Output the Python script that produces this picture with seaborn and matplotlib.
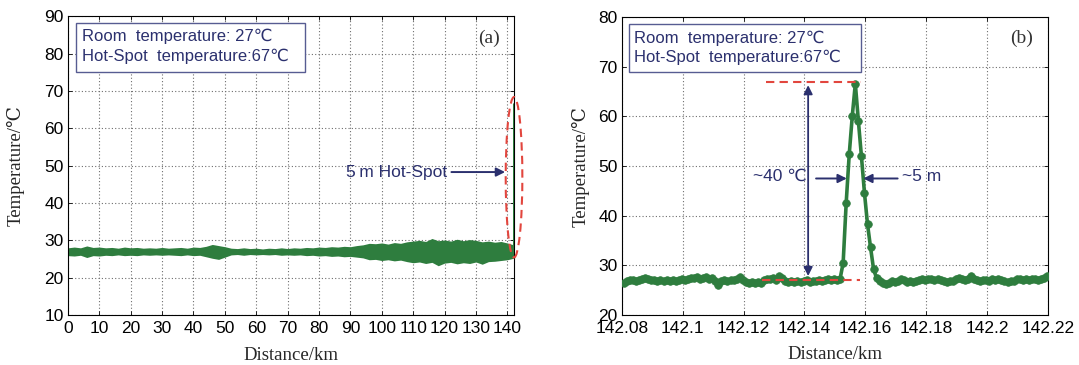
import numpy as np
import pandas as pd
import matplotlib
matplotlib.use("Agg")
import matplotlib.pyplot as plt
from matplotlib.patches import Ellipse, Rectangle
import seaborn as sns

# ---- data -------------------------------------------------------------
ROOM_T = 27   # room temperature, degC
HOT_T = 67    # hot-spot temperature, degC

# (a) whole fibre: envelope of the noisy temperature trace (every 2 km)
span_km = [0, 2, 4, 6, 8, 10, 12, 14, 16, 18, 20, 22, 24, 26, 28, 30, 32, 34,
           36, 38, 40, 42, 44, 46, 48, 50, 52, 54, 56, 58, 60, 62, 64, 66, 68, 70,
           72, 74, 76, 78, 80, 82, 84, 86, 88, 90, 92, 94, 96, 98, 100, 102, 104,
           106, 108, 110, 112, 114, 116, 118, 120, 122, 124, 126, 128, 130, 132,
           134, 136, 138, 140, 142]
span_hi = [28.0, 28.2, 28.0, 28.5, 28.1, 28.2, 28.0, 28.1, 27.9, 28.2, 28.0, 28.1,
           27.9, 28.0, 27.9, 28.1, 27.9, 28.0, 28.1, 27.9, 28.2, 28.1, 28.4, 28.9,
           28.6, 28.3, 27.9, 27.8, 28.0, 27.8, 27.9, 27.7, 27.9, 27.8, 28.0, 27.8,
           28.0, 27.9, 28.1, 28.0, 28.2, 28.1, 28.3, 28.2, 28.4, 28.3, 28.6, 28.8,
           29.2, 29.1, 29.3, 29.0, 29.4, 29.2, 29.6, 29.8, 30.0, 29.7, 30.5, 29.9,
           30.1, 29.8, 30.3, 29.9, 30.2, 30.0, 29.6, 29.8, 29.5, 29.7, 29.3, 28.8]
span_lo = [25.9, 25.8, 26.0, 25.4, 25.9, 25.8, 26.0, 25.9, 26.1, 25.9, 26.0, 25.9,
           26.1, 26.0, 26.1, 26.0, 26.1, 26.0, 25.9, 26.1, 25.9, 26.0, 25.6, 25.2,
           24.9, 25.5, 26.1, 26.2, 26.0, 26.2, 26.1, 26.2, 26.1, 26.2, 26.0, 26.1,
           26.0, 26.1, 25.9, 26.0, 25.8, 25.9, 25.7, 25.8, 25.6, 25.7, 25.5, 25.3,
           24.8, 24.9, 24.6, 24.8, 24.5, 24.7, 24.3, 24.0, 24.2, 23.8, 24.1, 23.2,
           23.9, 24.1, 23.7, 24.0, 23.8, 24.2, 23.6, 24.3, 24.4, 24.6, 24.8, 25.2]

# (b) zoom around the hot spot: one sample per metre
zoom_start_km = 142.0807
zoom_step_km = 0.001
zoom_temp = [
    26.5, 26.8, 27.0, 27.0, 26.9, 27.1, 27.3, 27.45, 27.2, 27.0,
    27.0, 26.8, 27.1, 26.9, 27.0, 26.8, 27.0, 26.9, 27.1, 27.2,
    27.0, 27.3, 27.5, 27.4, 27.6, 27.3, 27.5, 27.6, 27.2, 27.5,
    26.9, 26.1, 26.9, 27.0, 26.8, 27.1, 27.0, 27.2, 27.6, 27.1,
    26.6, 26.4, 26.6, 26.5, 26.7, 26.5, 27.0, 27.3, 27.2, 27.4,
    27.1, 27.8, 27.5, 26.9, 26.7, 26.9, 26.6, 26.8, 26.7, 26.9,
    27.0, 26.7, 26.9, 26.8, 27.0, 26.9, 27.1, 27.2, 27.0, 27.3,
    27.1, 27.3, 30.5, 42.6, 52.4, 60.1, 66.6, 59.1, 52.0, 44.6,
    38.3, 33.6, 29.2, 27.4, 26.9, 26.5, 26.2, 26.4, 26.8, 26.6,
    26.9, 27.2, 27.0, 26.7, 26.9, 26.6, 26.8, 27.1, 27.3, 27.0,
    27.2, 27.3, 27.1, 27.2, 27.0, 26.8, 26.7, 26.9, 26.8, 27.3,
    27.4, 27.2, 27.0, 27.3, 27.8, 27.2, 27.0, 26.9, 27.1, 27.0,
    26.9, 27.2, 27.0, 27.3, 27.1, 26.8, 26.7, 26.9, 26.8, 27.2,
    27.3, 27.1, 27.2, 27.0, 27.3, 27.2, 27.1, 27.3, 27.5, 27.8]
zoom_km = zoom_start_km + zoom_step_km * np.arange(len(zoom_temp))

span_xticks = [0, 10, 20, 30, 40, 50, 60, 70, 80, 90, 100, 110, 120, 130, 140]
span_yticks = [10, 20, 30, 40, 50, 60, 70, 80, 90]
zoom_xticks = [142.08, 142.10, 142.12, 142.14, 142.16, 142.18, 142.20, 142.22]
zoom_xticklabels = ["142.08", "142.1", "142.12", "142.14", "142.16", "142.18",
                    "142.2", "142.22"]
zoom_yticks = [20, 30, 40, 50, 60, 70, 80]

# ---- style ------------------------------------------------------------
sns.set_theme(style="ticks")
SANS = ["Liberation Sans", "DejaVu Sans"]
SERIF = ["Liberation Serif", "DejaVu Serif"]
plt.rcParams["font.family"] = SANS
plt.rcParams["axes.unicode_minus"] = False

GREEN = "#2e7d3e"
NAVY = "#2b306e"
BOXEDGE = "#575c92"
RED = "#e2463e"

fig = plt.figure(figsize=(10.79, 3.65), dpi=100)
ax1 = fig.add_axes([0.0630, 0.137, 0.4136, 0.818])
ax2 = fig.add_axes([0.5763, 0.137, 0.3950, 0.816])


def style_axes(ax):
    ax.grid(True, linestyle=(0, (1, 2)), color="#6e6e6e", linewidth=0.8)
    ax.set_axisbelow(True)
    for s in ax.spines.values():
        s.set_visible(True)
        s.set_color("black")
        s.set_linewidth(0.8)
    ax.tick_params(axis="both", direction="in", length=3, width=0.6,
                   top=True, right=True, labelsize=12.5, colors="black")
    ax.tick_params(axis="x", pad=4)
    ax.tick_params(axis="y", pad=3)
    for lab in ax.get_xticklabels() + ax.get_yticklabels():
        lab.set_family(SANS)


def axis_labels(ax, ylab_x):
    ax.set_xlabel("Distance/km", family=SERIF, fontsize=13.5)
    ax.set_ylabel("Temperature/\u2103", family=SERIF, fontsize=13.5)
    ax.xaxis.set_label_coords(0.5, -0.134)
    ax.yaxis.set_label_coords(ylab_x, 0.5)
    ax.xaxis.label.set_va("center")
    ax.yaxis.label.set_va("center")


def info_box(ax, x0, x1, y0, y1, tx, ty1, ty2):
    ax.add_patch(Rectangle((x0, y0), x1 - x0, y1 - y0, transform=ax.transAxes,
                           facecolor="white", edgecolor=BOXEDGE, linewidth=1.0,
                           zorder=5))
    ax.text(tx, ty1, "Room  temperature: %d\u2103" % ROOM_T, transform=ax.transAxes,
            ha="left", va="center", fontsize=12, color=NAVY, family=SANS, zorder=6)
    ax.text(tx, ty2, "Hot-Spot  temperature:%d\u2103" % HOT_T, transform=ax.transAxes,
            ha="left", va="center", fontsize=12, color=NAVY, family=SANS, zorder=6)


# ---- (a) whole fibre --------------------------------------------------
ax1.fill_between(span_km, span_lo, span_hi, color=GREEN, linewidth=0,
                 zorder=2)
sns.lineplot(x=zoom_km, y=zoom_temp, ax=ax1, color=GREEN, linewidth=1.0,
             estimator=None, sort=False, zorder=3)
ax1.set_xlim(0, 142.22)
ax1.set_ylim(10, 90)
ax1.set_xticks(span_xticks)
ax1.set_yticks(span_yticks)
style_axes(ax1)
axis_labels(ax1, -0.118)
info_box(ax1, 0.019, 0.532, 0.815, 0.978, 0.031, 0.932, 0.865)
ax1.text(0.944, 0.928, "(a)", transform=ax1.transAxes, ha="center", va="center",
         fontsize=14, family=SERIF, color="#333333")

ax1.add_patch(Ellipse((142.15, 46.9), width=5.3, height=43, fill=False,
                      edgecolor=RED, linestyle=(0, (4, 2.5)), linewidth=1.5,
                      clip_on=False, zorder=6))
ax1.annotate("", xy=(139.3, 48.3), xytext=(122.2, 48.3),
             arrowprops=dict(arrowstyle="-|>", color=NAVY, lw=1.4,
                             mutation_scale=13, shrinkA=0, shrinkB=0), zorder=6)
ax1.text(88.5, 48.3, "5\u2009m Hot-Spot", ha="left", va="center", fontsize=12.5,
         color=NAVY, family=SANS)

# ---- (b) zoom on the hot spot -----------------------------------------
zoom_df = pd.DataFrame({"Distance": zoom_km, "Temperature": zoom_temp})
sns.lineplot(data=zoom_df, x="Distance", y="Temperature", ax=ax2, color=GREEN,
             linewidth=2.6, marker="o", markersize=5.5, markeredgecolor=GREEN,
             markeredgewidth=0.5, estimator=None, sort=False, zorder=3)
ax2.set_xlim(142.08, 142.22)
ax2.set_ylim(20, 80)
ax2.set_xticks(zoom_xticks)
ax2.set_xticklabels(zoom_xticklabels)
ax2.set_yticks(zoom_yticks)
style_axes(ax2)
axis_labels(ax2, -0.097)
info_box(ax2, 0.016, 0.560, 0.816, 0.977, 0.0275, 0.93, 0.865)
ax2.text(0.937, 0.928, "(b)", transform=ax2.transAxes, ha="center", va="center",
         fontsize=14, family=SERIF, color="#333333")

# reference levels: hot-spot peak and room temperature
ax2.plot([142.1274, 142.1584], [HOT_T, HOT_T], color=RED,
         linestyle=(0, (4, 2.5)), linewidth=1.5, zorder=4)
ax2.plot([142.1260, 142.1582], [ROOM_T, ROOM_T], color=RED,
         linestyle=(0, (4, 2.5)), linewidth=1.5, zorder=4)

# temperature rise (double arrow) and spatial resolution markers
ax2.annotate("", xy=(142.1412, HOT_T - 0.7), xytext=(142.1412, ROOM_T + 0.85),
             arrowprops=dict(arrowstyle="<|-|>", color=NAVY, lw=1.3,
                             mutation_scale=13, shrinkA=0, shrinkB=0), zorder=6)
ax2.annotate("", xy=(142.1539, 47.5), xytext=(142.1438, 47.5),
             arrowprops=dict(arrowstyle="-|>", color=NAVY, lw=1.4,
                             mutation_scale=13, shrinkA=0, shrinkB=0), zorder=6)
ax2.annotate("", xy=(142.1593, 47.5), xytext=(142.1706, 47.5),
             arrowprops=dict(arrowstyle="-|>", color=NAVY, lw=1.4,
                             mutation_scale=13, shrinkA=0, shrinkB=0), zorder=6)
ax2.text(142.1406, 48.0, "~%d \u2103" % (HOT_T - ROOM_T), ha="right", va="center",
         fontsize=12.5, color=NAVY, family=SANS)
ax2.text(142.1719, 48.0, "~5 m", ha="left", va="center", fontsize=12.5,
         color=NAVY, family=SANS)

fig.savefig("out.png", dpi=100, facecolor="white")
